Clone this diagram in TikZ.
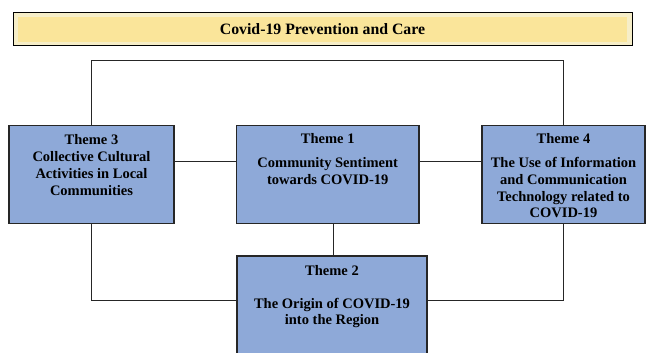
\documentclass[tikz,border=0pt]{standalone}
\usepackage{fontspec}
\setmainfont{Liberation Serif}
\definecolor{boxblue}{RGB}{142,169,216}
\definecolor{titleyellow}{RGB}{250,229,154}
\definecolor{titleframe}{RGB}{246,238,200}
\tikzset{
  themebox/.style={draw=black!85, line width=1.1pt, fill=boxblue, inner sep=0pt},
  themetext/.style={anchor=north, align=center, inner sep=0pt, font=\bfseries\fontsize{14.5}{16.8}\selectfont},
  link/.style={draw=black!85, line width=1pt}
}
\begin{document}
\begin{tikzpicture}[x=1pt,y=-1pt]
\useasboundingbox (0,0) rectangle (649,353);
\clip (0,0) rectangle (649,353);
% title
\node[draw=black, line width=1pt, fill=titleframe, minimum width=619pt, minimum height=33pt, inner sep=0pt] (title) at (322.5,29.5) {};
\node[fill=titleyellow, minimum width=609pt, minimum height=25pt, inner sep=0pt, font=\bfseries\fontsize{15.8}{18}\selectfont] (titletext) at (322.5,29.5) {Covid-19 Prevention and Care};
% boxes
\node[themebox, minimum width=165pt, minimum height=98pt] (t3) at (91.5,174.5) {};
\node[themebox, minimum width=182.5pt, minimum height=98pt] (t1) at (327.75,174.5) {};
\node[themebox, minimum width=163pt, minimum height=98pt] (t4) at (563.5,174.5) {};
\node[themebox, minimum width=190pt, minimum height=120pt] (t2) at (332,316) {};
% texts
\node[themetext] (t3txt) at (91.5,134.5) {Theme 3\\Collective Cultural\\Activities in Local\\Communities};
\node[themetext] (t1txt) at (327.75,133.5) {Theme 1\\[7pt]Community Sentiment\\towards COVID-19};
\node[themetext] (t4txt) at (563.5,133.5) {Theme 4\\[7pt]The Use of Information\\and Communication\\Technology related to\\COVID-19};
\node[themetext] (t2txt) at (332,265) {Theme 2\\[16pt]The Origin of COVID-19\\into the Region};
% connectors
\coordinate (topy) at (0,61);
\coordinate (midy) at (0,162);
\coordinate (boty) at (0,300);
\draw[link] (t3.north) -- (t3.north |- topy) -- (t4.north |- topy) -- (t4.north);
\draw[link] (t3.south) -- (t3.south |- boty) -- (t2.west |- boty);
\draw[link] (t4.south) -- (t4.south |- boty) -- (t2.east |- boty);
\draw[link] (t3.east |- midy) -- (t1.west |- midy);
\draw[link] (t1.east |- midy) -- (t4.west |- midy);
\draw[link] (t1.south -| 333,0) -- (t2.north -| 333,0);
\end{tikzpicture}
\end{document}
